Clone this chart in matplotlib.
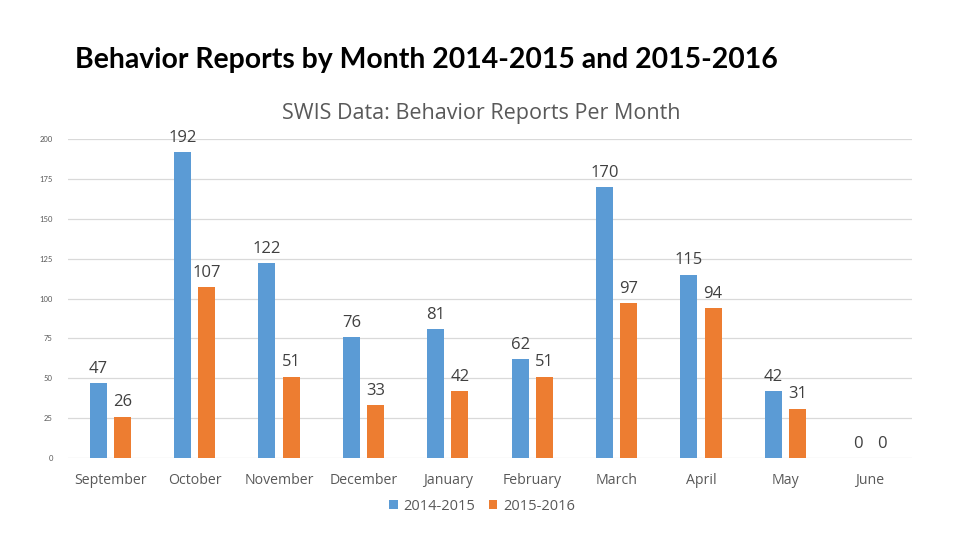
import matplotlib
matplotlib.use("Agg")
import matplotlib.pyplot as plt
import numpy as np

months = ["September", "October", "November", "December", "January",
          "February", "March", "April", "May", "June"]
series_names = ["2014-2015", "2015-2016"]
reports_1415 = [47, 192, 122, 76, 81, 62, 170, 115, 42, 0]
reports_1516 = [26, 107, 51, 33, 42, 51, 97, 94, 31, 0]
yticks = [0, 25, 50, 75, 100, 125, 150, 175, 200]

blue = "#5B9BD5"
orange = "#ED7D31"
gray_text = "#595959"

plt.rcParams['font.family'] = ['Lato', 'DejaVu Sans']

fig = plt.figure(figsize=(9.6, 5.4), dpi=100)
ax = fig.add_axes([68/960, 1-458/540, (912-68)/960, (458-139)/540])

x = np.arange(len(months))
w = 0.2
off = 0.143
b1 = ax.bar(x - off, reports_1415, w, color=blue, label=series_names[0], zorder=3)
b2 = ax.bar(x + off, reports_1516, w, color=orange, label=series_names[1], zorder=3)

for xs, vals in ((x - off, reports_1415), (x + off, reports_1516)):
    for xi, v in zip(xs, vals):
        ax.annotate(str(v), (xi, v), xytext=(0, 4.5), textcoords="offset points",
                    ha="center", va="bottom", fontsize=12, color="#404040",
                    family=['Open Sans', 'DejaVu Sans'], annotation_clip=False)

ax.set_xlim(-0.5, len(months) - 0.5)
ax.set_ylim(0, 200)
ax.set_yticks(yticks)
ax.set_yticklabels([str(t) for t in yticks], fontsize=5.5, color=gray_text)
ax.set_xticks(x)
ax.set_xticklabels(months, fontsize=10.2, color=gray_text, family=['Open Sans', 'DejaVu Sans'])
ax.tick_params(axis='both', length=0)
ax.tick_params(axis='y', pad=11)
ax.tick_params(axis='x', pad=11)
ax.grid(axis='y', color="#D9D9D9", linewidth=0.9, zorder=0)
for s in ax.spines.values():
    s.set_visible(False)

fig.text(481/960, 1-113/540, "SWIS Data: Behavior Reports Per Month", ha="center", va="center",
         fontsize=15.5, color=gray_text, family=['Open Sans', 'DejaVu Sans'])
fig.text(75/960, 1-60/540, "Behavior Reports by Month 2014-2015 and 2015-2016", ha="left", va="center",
         fontsize=20.4, fontweight='bold', color="black", family=['Lato', 'DejaVu Sans'])

fig.legend(handles=[b1, b2], labels=series_names, loc="center", bbox_to_anchor=(482/960, 1-506/540),
           ncol=2, frameon=False, handlelength=0.6, handleheight=0.6,
           handletextpad=0.4, columnspacing=0.9,
           prop={'family': ['Open Sans', 'DejaVu Sans'], 'size': 10.5})
for t in fig.legends[0].get_texts():
    t.set_color(gray_text)

fig.savefig("out.png", dpi=100)
